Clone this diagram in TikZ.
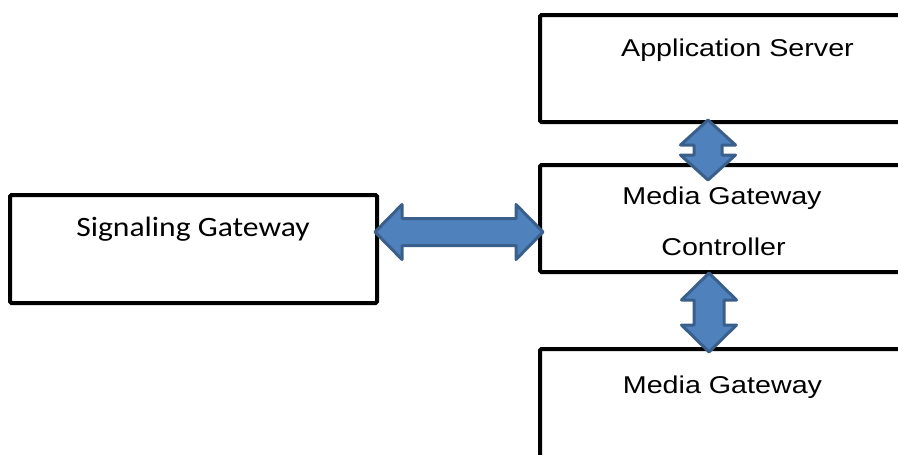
\documentclass[tikz,border=0pt]{standalone}
\usepackage{fontspec}
\usetikzlibrary{calc}
\newfontfamily\arialf[FakeStretch=1.18]{Liberation Sans}
\newfontfamily\calibrif[FakeStretch=1.13]{Carlito}
\definecolor{arrowfill}{HTML}{4F81BD}
\definecolor{arrowline}{HTML}{3A5F8B}

% block double arrow between two named coordinates:
% #1,#2 tips, #3 head length, #4 head half width, #5 shaft half width
\newcommand{\blockarrow}[5]{%
  \coordinate (ba1) at ($(#1)!#3!(#2)$);
  \coordinate (ba2) at ($(#2)!#3!(#1)$);
  \draw[arrowstyle] (#1)
    -- ($(ba1)!#4!90:(#2)$) -- ($(ba1)!#5!90:(#2)$)
    -- ($(ba2)!#5!-90:(#1)$) -- ($(ba2)!#4!-90:(#1)$)
    -- (#2)
    -- ($(ba2)!#4!90:(#1)$) -- ($(ba2)!#5!90:(#1)$)
    -- ($(ba1)!#5!-90:(#2)$) -- ($(ba1)!#4!-90:(#2)$)
    -- cycle;}

\begin{document}
\begin{tikzpicture}[x=1pt,y=-1pt,
  box/.style={draw=black, line width=4pt, rounded corners=1.5pt,
    inner sep=0pt, outer sep=0pt},
  arrowstyle/.style={fill=arrowfill, draw=arrowline, line width=3pt,
    line join=round},
  arialtxt/.style={inner sep=0pt, anchor=base,
    font=\arialf\fontsize{24.3}{29}\selectfont},
  calibritxt/.style={inner sep=0pt, anchor=base,
    font=\calibrif\fontsize{28}{34}\selectfont}]
\useasboundingbox (0,0) rectangle (898,455);
\clip (0,0) rectangle (898,455);

% boxes
\node[box, minimum width=367pt, minimum height=108pt] (sg) at (193.5,249) {};
\node[box, minimum width=420pt, minimum height=107pt] (as) at (750,68.5) {};
\node[box, minimum width=420pt, minimum height=107pt] (mgc) at (750,218.5) {};
\node[box, minimum width=420pt, minimum height=108pt] (mg) at (750,403) {};

% labels
\node[calibritxt] (sgt) at (193,236) {Signaling Gateway};
\node[arialtxt] (ast) at (737.5,56.7) {Application Server};
\node[arialtxt] (mgct1) at (722,204) {Media Gateway};
\node[arialtxt] (mgct2) at (723.5,255) {Controller};
\node[arialtxt] (mgt) at (722.5,393.3) {Media Gateway};

% arrow end points
\coordinate (axisU) at (708,0);
\coordinate (axisL) at (709,0);
\coordinate (hL) at ($(sg.east)+(-2,-17)$);
\coordinate (hR) at ($(mgc.west)+(3,13.5)$);
\coordinate (uT) at ($(as.south -| axisU)+(0,-2)$);
\coordinate (uB) at ($(mgc.north -| axisU)+(0,15)$);
\coordinate (lT) at ($(mgc.south -| axisL)+(0,1)$);
\coordinate (lB) at ($(mg.north -| axisL)+(0,3)$);

% connectors
\blockarrow{hL}{hR}{27pt}{27.5pt}{13.5pt}
\blockarrow{uT}{uB}{25pt}{27.5pt}{14pt}
\blockarrow{lT}{lB}{27pt}{27.5pt}{15pt}
\end{tikzpicture}
\end{document}
